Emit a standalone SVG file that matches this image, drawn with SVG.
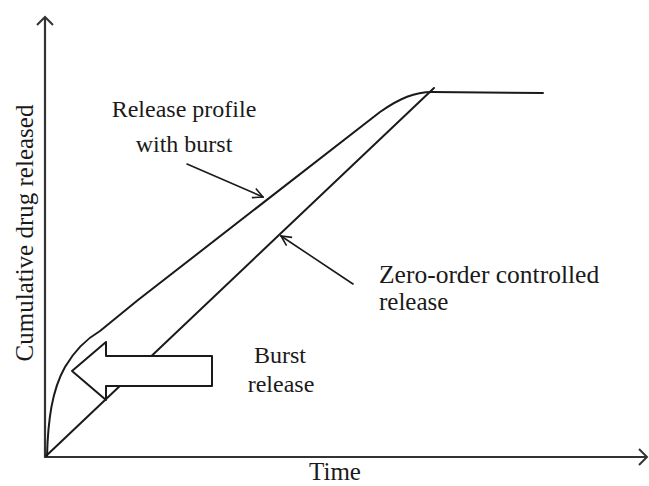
<svg xmlns="http://www.w3.org/2000/svg" width="649" height="486" viewBox="0 0 649 486">
<defs>
<style>
.ln{fill:none;stroke:#1a1a1a;stroke-width:2;stroke-linecap:round;stroke-linejoin:round}
.thin{fill:none;stroke:#1a1a1a;stroke-width:1.6;stroke-linecap:round;stroke-linejoin:round}
.ax{fill:none;stroke:#333;stroke-width:2.2}
text{font-family:"Liberation Serif","Times New Roman",serif;font-size:24px;fill:#1a1a1a}
</style>
<marker id="open" viewBox="0 0 12 12" refX="11" refY="6" markerWidth="12" markerHeight="12" markerUnits="userSpaceOnUse" orient="auto">
<path d="M1,1 L11,6 L1,11" fill="none" stroke="#1a1a1a" stroke-width="1.6"/>
</marker>
<marker id="axh" viewBox="0 0 18 18" refX="16" refY="9" markerWidth="18" markerHeight="18" markerUnits="userSpaceOnUse" orient="auto">
<path d="M8,1 L16,9 L8,17" fill="none" stroke="#333" stroke-width="2"/>
</marker>
</defs>
<rect width="649" height="486" fill="#fff"/>
<g id="axes">
<line class="ax" x1="45" y1="457" x2="45" y2="17" marker-end="url(#axh)"/>
<line class="ax" x1="44" y1="457" x2="647" y2="457" marker-end="url(#axh)"/>
</g>
<g id="curves">
<path id="zero-order" class="ln" d="M46,456 L434,88"/>
<path id="burst-profile" class="ln" d="M47,456 C48,420 52,390 65,367 C75,350 88,338 100,331 L138,300 L380,112 C400,98 415,92 432,92 L543,93"/>
</g>
<g id="burst-arrow">
<path class="ln" style="fill:#fff" d="M72,371 L106,342 L106,356 L212,356 L212,386 L106,386 L106,400 Z"/>
</g>
<g id="connectors">
<line class="thin" x1="187" y1="164" x2="263" y2="197" marker-end="url(#open)"/>
<line class="thin" x1="353" y1="284" x2="281" y2="236" marker-end="url(#open)"/>
</g>
<g id="labels">
<text x="184" y="117" text-anchor="middle">Release profile</text>
<text x="184" y="152" text-anchor="middle">with burst</text>
<text x="379" y="283" style="font-size:25.5px">Zero-order controlled</text>
<text x="379" y="310" style="font-size:25px">release</text>
<text x="280" y="363" text-anchor="middle">Burst</text>
<text x="281" y="392" text-anchor="middle">release</text>
<text x="335" y="480" text-anchor="middle" style="font-size:25px">Time</text>
<text transform="translate(33,233) rotate(-90)" text-anchor="middle" style="font-size:25px">Cumulative drug released</text>
</g>
</svg>
